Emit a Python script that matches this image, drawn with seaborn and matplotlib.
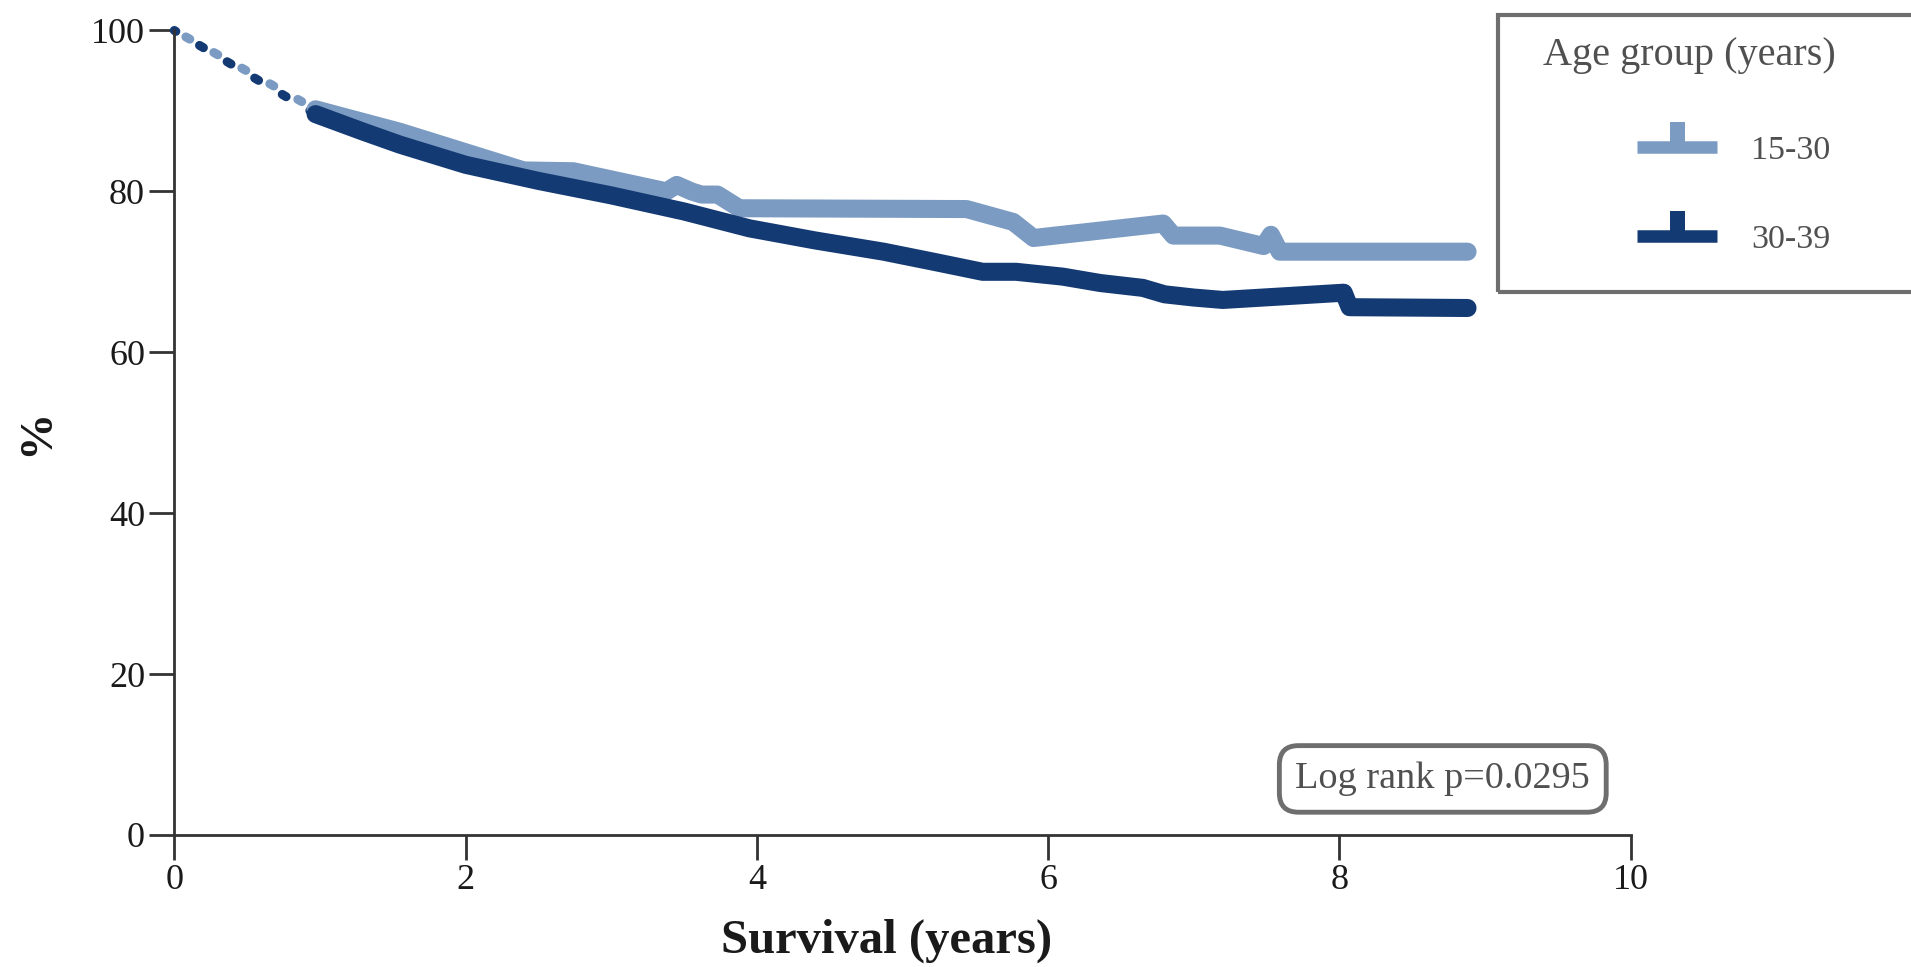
import numpy as np
import pandas as pd
import matplotlib
matplotlib.use("Agg")
import matplotlib.pyplot as plt
from matplotlib.lines import Line2D
from matplotlib.path import Path
from matplotlib.patches import Rectangle
import seaborn as sns

# ---------------- data ----------------
groups = ["15-30", "30-39"]
colors = ["#7B9BC2", "#143A73"]

origin_time = 0.0
origin_surv = 100.0

young_time = [0.97, 1.55, 2.40, 2.74, 3.38, 3.45, 3.55, 3.62, 3.73, 3.88, 5.44,
              5.76, 5.90, 6.79, 6.86, 7.18, 7.48, 7.53, 7.59, 8.88]
young_surv = [90.2, 87.4, 82.6, 82.5, 80.0, 80.8, 80.0, 79.6, 79.6, 77.9, 77.8,
              76.2, 74.2, 76.0, 74.5, 74.5, 73.2, 74.6, 72.5, 72.5]

older_time = [0.97, 1.3, 1.55, 2.0, 2.5, 3.0, 3.5, 3.95, 4.4, 4.87, 5.2, 5.55,
              5.78, 6.1, 6.36, 6.65, 6.8, 7.0, 7.2, 8.03, 8.07, 8.88]
older_surv = [89.6, 87.4, 85.8, 83.3, 81.3, 79.5, 77.5, 75.4, 73.9, 72.5, 71.3, 70.0,
              70.0, 69.4, 68.6, 68.0, 67.2, 66.8, 66.5, 67.4, 65.6, 65.5]

x_ticks = [0, 2, 4, 6, 8, 10]
y_ticks = [0, 20, 40, 60, 80, 100]
x_label = "Survival (years)"
y_label = "%"
legend_title = "Age group (years)"
pvalue_text = "Log rank p=0.0295"

# ---------------- style ----------------
sns.set_style("ticks")
plt.rcParams["font.family"] = ["Liberation Serif", "DejaVu Serif"]
text_col = "#505050"
axis_col = "#333333"

fig = plt.figure(figsize=(19.11, 9.67), dpi=100)
ax = fig.add_axes([0.0912, 0.1366, 0.8533 - 0.0912, 0.9685 - 0.1366])

df = pd.concat([
    pd.DataFrame({"time": young_time, "surv": young_surv, "group": groups[0]}),
    pd.DataFrame({"time": older_time, "surv": older_surv, "group": groups[1]}),
], ignore_index=True)

# dotted lead-in from origin to first observed point
firsts = [(young_time[0], young_surv[0]), (older_time[0], older_surv[0])]
dot_lw = 6.5
for i, (g, c) in enumerate(zip(groups, colors)):
    seg = pd.DataFrame({"time": [origin_time, firsts[i][0]],
                        "surv": [origin_surv, firsts[i][1]]})
    sns.lineplot(data=seg, x="time", y="surv", ax=ax, color=c, lw=dot_lw,
                 estimator=None, sort=False, legend=False,
                 linestyle=(1.78 * (1 - i) + 0.3, (0.5, 3.05)),
                 dash_capstyle="round", clip_on=False)

sns.lineplot(data=df, x="time", y="surv", hue="group", palette=dict(zip(groups, colors)),
             ax=ax, lw=13, estimator=None, sort=False, legend=False,
             solid_capstyle="round", solid_joinstyle="round", clip_on=False)

ax.set_xlim(0, 10)
ax.set_ylim(0, 100)
ax.set_xticks(x_ticks)
ax.set_yticks(y_ticks)
sns.despine(ax=ax)
for s in ["left", "bottom"]:
    ax.spines[s].set_color(axis_col)
    ax.spines[s].set_linewidth(2.0)
ax.tick_params(axis="both", length=18, width=2.0, color=axis_col, pad=3,
               labelsize=26, labelcolor="#1a1a1a")

ax.set_xlabel(x_label, fontsize=35, fontweight="bold", color="#1a1a1a")
ax.xaxis.label.set_va("center")
ax.xaxis.set_label_coords(0.489, -0.132)
ax.set_ylabel(y_label, fontsize=34, fontweight="bold", color="#1a1a1a")
ax.yaxis.label.set_va("center")
ax.yaxis.set_label_coords(-0.0945, 0.50)

# p-value box
ax.text(0.871, 0.0696, pvalue_text, transform=ax.transAxes, ha="center", va="center",
        fontsize=27.5, color=text_col,
        bbox=dict(boxstyle="round,pad=0.42,rounding_size=0.5", fc="white",
                  ec="#6E6E6E", lw=3.5))

# legend
tick_marker = Path([(-0.3, 0), (0.3, 0), (0.3, 1), (-0.3, 1), (-0.3, 0)],
                   [Path.MOVETO, Path.LINETO, Path.LINETO, Path.LINETO, Path.CLOSEPOLY])
handles = [Line2D([], [], color=c, lw=9, marker=tick_marker, markersize=36,
                  markeredgewidth=0, markerfacecolor=c, solid_capstyle="butt")
           for c in colors]
leg = fig.legend(handles, groups, loc="upper left", bbox_to_anchor=(0.8566, 0.860),
                 frameon=False, fontsize=24.5, handlelength=2.35, handletextpad=1.0,
                 labelspacing=1.7, borderpad=0, borderaxespad=0, numpoints=1)
for t in leg.get_texts():
    t.set_color(text_col)
fig.text(0.8074, 0.943, legend_title, fontsize=29, color=text_col, ha="left", va="center")
fig.patches.append(Rectangle((0.7839, 0.6984), 0.3, 0.9845 - 0.6984,
                             transform=fig.transFigure, fill=False,
                             ec="#6E6E6E", lw=3.0, figure=fig))

fig.savefig("out.png", dpi=100)
